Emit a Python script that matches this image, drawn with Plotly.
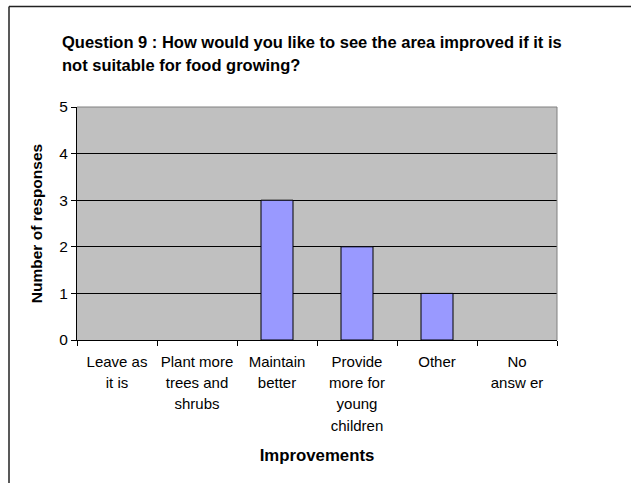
import plotly.graph_objects as go

categorias = ["Leave as<br>it is", "Plant more<br>trees and<br>shrubs", "Maintain<br>better",
              "Provide<br>more for<br>young<br>children", "Other", "No<br>answ er"]
respostas = [0, 0, 3, 2, 1, 0]
y_ticks = [0, 1, 2, 3, 4, 5]

titulo = ["Question 9 : How would you like to see the area improved if it is",
          "not suitable for food growing?"]

W, H = 631, 483
L, R, T, B = 77, 74, 107, 143
pw, ph = W - L - R, H - T - B


def pequeno(txt, size):
    # each line in a smaller span so the line spacing stays wide like Excel
    return "<br>".join("<span style='font-size:%spx'>%s</span>" % (size, s) for s in txt.split("<br>"))


fig = go.Figure()
fig.add_trace(go.Bar(
    x=[pequeno(c, 15) for c in categorias],
    y=respostas,
    width=0.4,
    marker=dict(color="#9999FF",
                line=dict(color="black", width=[1 if v > 0 else 0 for v in respostas])),
))

fig.update_layout(
    width=W, height=H,
    margin=dict(l=L, r=R, t=T, b=B),
    paper_bgcolor="white",
    plot_bgcolor="#C0C0C0",
    font=dict(family="Liberation Sans, Arial", color="black", size=15),
    showlegend=False,
)

fig.update_xaxes(
    tickfont=dict(size=16.4), tickangle=0, ticklabelstandoff=6,
    tickson="boundaries", ticks="outside", ticklen=5, tickcolor="black",
    showline=True, linecolor="black", linewidth=1,
    showgrid=False, automargin=False,
    title=dict(text="<b>Improvements</b>", font=dict(size=16.8), standoff=16),
)
fig.update_yaxes(
    range=[0, 5], tickvals=y_ticks, ticks="outside", ticklen=5, tickcolor="black",
    tickfont=dict(size=15.5),
    showline=True, linecolor="black", linewidth=1,
    showgrid=True, gridcolor="black", gridwidth=1,
    zeroline=False, automargin=False,
    title=dict(text="<b>Number of responses</b>", font=dict(size=15.5), standoff=12),
)

# grey border on top and right of the plot area
fig.add_shape(type="line", xref="paper", yref="paper", x0=0, x1=1, y0=1, y1=1,
              line=dict(color="#808080", width=1))
fig.add_shape(type="line", xref="paper", yref="paper", x0=1, x1=1, y0=0, y1=1,
              line=dict(color="#808080", width=1))

# outer chart frame (top and left edges visible)
fx = (9 - L) / pw
fy = 1 + (T - 6.5) / ph
fig.add_shape(type="line", xref="paper", yref="paper", x0=fx, x1=(W + 5 - L) / pw, y0=fy, y1=fy,
              line=dict(color="#222222", width=1.5))
fig.add_shape(type="line", xref="paper", yref="paper", x0=fx, x1=fx, y0=fy, y1=-(B + 5) / ph,
              line=dict(color="#222222", width=1.5))

fig.add_annotation(
    text="<b>" + pequeno("<br>".join(titulo), 16.5) + "</b>",
    xref="paper", yref="paper", x=(60 - L) / pw, y=1 + (T - 31) / ph,
    xanchor="left", yanchor="top", align="left", showarrow=False,
    font=dict(size=17.7),
)

# page has an 8px body margin by default; drop it so the chart sits at 0,0
fig.write_html("out.html", config={"displayModeBar": False},
               post_script="document.body.style.margin='0';")
